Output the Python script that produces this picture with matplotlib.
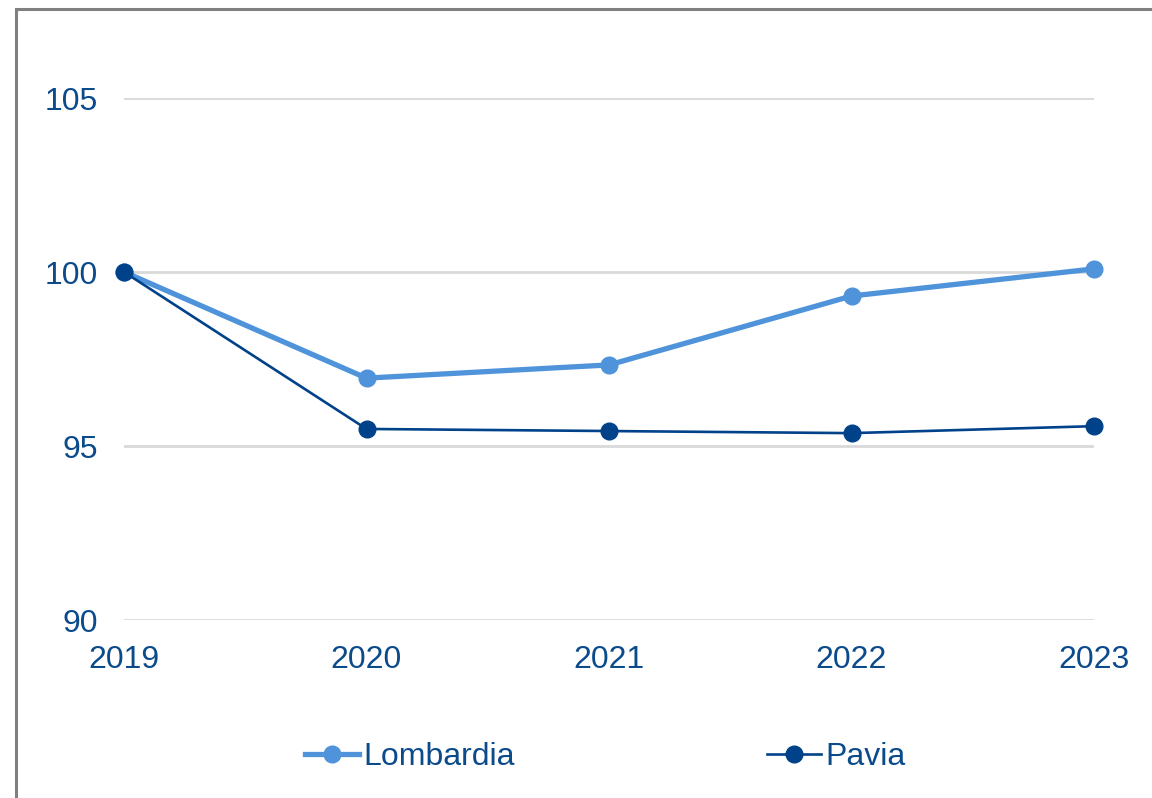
import matplotlib
matplotlib.use("Agg")
import matplotlib.pyplot as plt
from matplotlib.patches import Rectangle

years = ["2019", "2020", "2021", "2022", "2023"]
lombardia = [100.0, 96.95, 97.33, 99.31, 100.09]
pavia = [100.0, 95.49, 95.43, 95.37, 95.57]
yticks = [90, 95, 100, 105]

text_color = "#0B4A8B"
light_blue = "#4F93DB"
navy = "#00428A"
grid_color = "#D9D9D9"

plt.rcParams["font.family"] = ["Liberation Sans", "DejaVu Sans"]

W, H = 1152, 798
fig = plt.figure(figsize=(W / 100, H / 100), dpi=100)
fig.patch.set_facecolor("white")

# outer chart frame (left and top edges visible)
fig.patches.append(Rectangle((16 / W, -0.5), 2.0, 1 - 9 / H + 0.5,
                             transform=fig.transFigure, fill=False,
                             edgecolor="#808080", linewidth=2.2, zorder=0))

ax = fig.add_axes([124 / W, 1 - 620 / H, (1094 - 124) / W, (620 - 98) / H])
x = list(range(len(years)))

ax.plot(x, lombardia, color=light_blue, lw=3.8, marker="o", ms=12,
        label="Lombardia", clip_on=False, zorder=3)
ax.plot(x, pavia, color=navy, lw=1.9, marker="o", ms=12,
        label="Pavia", clip_on=False, zorder=4)

ax.set_xlim(0, len(years) - 1)
ax.set_ylim(90, 105)
ax.set_yticks(yticks)
ax.set_yticklabels([str(v) for v in yticks])
ax.set_xticks(x)
ax.set_xticklabels(years)
ax.tick_params(axis="both", length=0, labelsize=23, colors=text_color)
ax.tick_params(axis="y", pad=19)
ax.tick_params(axis="x", pad=18)
ax.grid(axis="y", color=grid_color, lw=2.0)
ax.set_axisbelow(True)
for s in ax.spines.values():
    s.set_visible(False)

leg = ax.legend(loc="center", bbox_to_anchor=(605 / W, 1 - 757 / H),
                bbox_transform=fig.transFigure, ncol=2, frameon=False,
                fontsize=23, handlelength=1.7, handletextpad=0.12,
                columnspacing=7.9, borderaxespad=0)
for t in leg.get_texts():
    t.set_color(text_color)

fig.savefig("out.png", dpi=100, facecolor="white")
